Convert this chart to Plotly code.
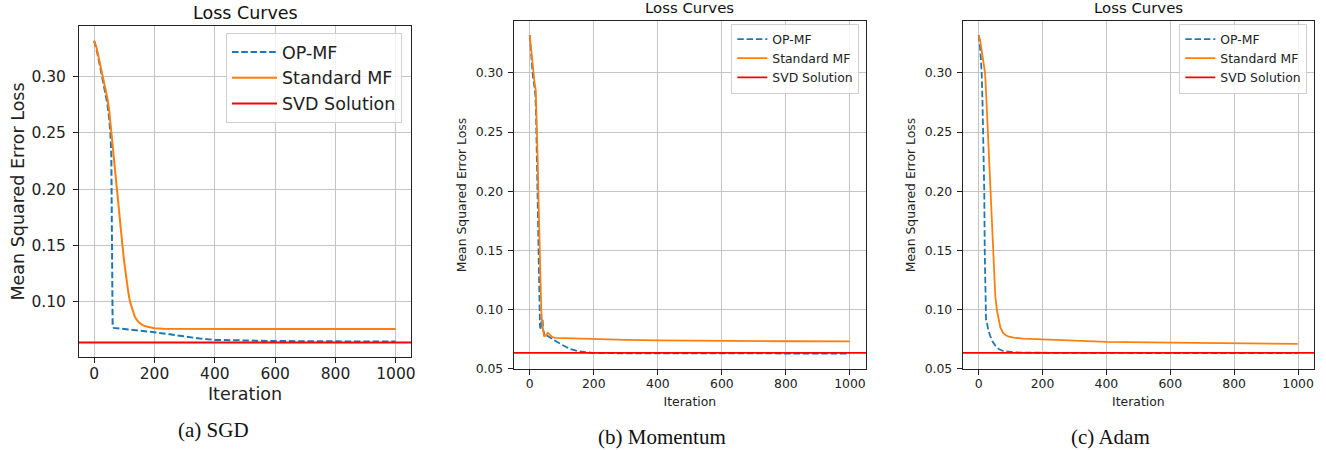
import plotly.graph_objects as go

W, H = 1326, 450


def px_x(v):
    return v / W


def px_y(v):
    return 1 - v / H


# ---------------- data ----------------
# (a) SGD
sgd_op_iter = [0, 10, 20, 27, 35, 44, 50, 54, 57, 58.5, 60, 61.5, 65, 100, 150, 200, 250, 300, 350, 400, 500, 600, 800, 999]
sgd_op_loss = [0.332, 0.322, 0.309, 0.300, 0.289, 0.276, 0.263, 0.250, 0.232, 0.180, 0.120, 0.078, 0.0767, 0.0758, 0.0744, 0.0728, 0.0710, 0.0690, 0.0672, 0.0660, 0.0653, 0.0650, 0.0647, 0.0645]
sgd_std_iter = [0, 8, 16, 25, 35, 44, 50, 57, 64, 70, 76, 82, 88, 94, 100, 107, 113, 119, 127, 135, 145, 157, 170, 185, 200, 230, 300, 500, 999]
sgd_std_loss = [0.332, 0.326, 0.316, 0.305, 0.293, 0.281, 0.270, 0.250, 0.232, 0.216, 0.200, 0.183, 0.166, 0.150, 0.135, 0.120, 0.109, 0.100, 0.092, 0.0865, 0.0825, 0.0797, 0.0781, 0.0770, 0.0764, 0.0760, 0.0758, 0.0757, 0.0757]

# (b) Momentum
mom_op_iter = [0, 5, 10, 15, 18, 20, 22, 24, 26, 28, 30, 32, 34, 36, 38, 40, 42, 44, 47, 50, 60, 75, 100, 125, 150, 175, 200, 300, 500, 999]
mom_op_loss = [0.332, 0.315, 0.297, 0.288, 0.280, 0.262, 0.235, 0.205, 0.170, 0.135, 0.100, 0.086, 0.084, 0.090, 0.085, 0.092, 0.083, 0.080, 0.078, 0.079, 0.077, 0.0745, 0.0705, 0.0670, 0.0650, 0.0640, 0.0634, 0.0632, 0.0631, 0.0630]
mom_std_iter = [0, 5, 10, 15, 19, 21, 23, 25, 27, 29, 31, 33, 36, 39, 42, 45, 50, 57, 63, 70, 80, 100, 150, 200, 300, 400, 600, 800, 999]
mom_std_loss = [0.332, 0.318, 0.301, 0.292, 0.285, 0.270, 0.249, 0.225, 0.200, 0.175, 0.150, 0.125, 0.100, 0.088, 0.081, 0.0778, 0.078, 0.0805, 0.079, 0.0768, 0.0762, 0.0760, 0.0756, 0.0752, 0.0746, 0.0741, 0.0736, 0.0734, 0.0733]

# (c) Adam
adam_op_iter = [0, 3, 6, 9.5, 12, 14, 16, 17.5, 19, 21, 23, 26, 30, 36, 44, 53, 63, 76, 90, 110, 150, 300, 600, 999]
adam_op_loss = [0.332, 0.326, 0.315, 0.300, 0.275, 0.250, 0.225, 0.200, 0.150, 0.100, 0.092, 0.089, 0.083, 0.0778, 0.073, 0.0694, 0.0668, 0.0652, 0.0645, 0.0640, 0.0637, 0.0635, 0.0634, 0.0634]
adam_std_iter = [0, 5, 10, 15, 20, 24, 28, 32, 36, 40, 44, 48, 52, 57, 62, 68, 76, 85, 95, 110, 140, 200, 300, 400, 600, 800, 999]
adam_std_loss = [0.332, 0.327, 0.318, 0.308, 0.300, 0.279, 0.255, 0.227, 0.200, 0.175, 0.150, 0.128, 0.112, 0.100, 0.092, 0.085, 0.0806, 0.0785, 0.0772, 0.0764, 0.0756, 0.0750, 0.0738, 0.0728, 0.0722, 0.0716, 0.0711]

SVD_LOSS = 0.0636

series_names = ["OP-MF", "Standard MF", "SVD Solution"]
captions = ["(a) SGD", "(b) Momentum", "(c) Adam"]
plot_title = "Loss Curves"
x_label = "Iteration"
y_label = "Mean Squared Error Loss"
x_ticks = [0, 200, 400, 600, 800, 1000]

# ---------------- layout / style (pixel boxes of each panel, page coords) ----------------
BLUE, ORANGE, RED = "#1f77b4", "#ff7f0e", "#ff0000"
FONT = "DejaVu Sans"

panels = [
    dict(op=(sgd_op_iter, sgd_op_loss), std=(sgd_std_iter, sgd_std_loss),
         box=(79, 411, 26, 357), yr=(0.0508, 0.3451), tick=15.5, lab=17.5, ttl=17.5, leg=17.5,
         lw=2.0, legpos=(402, 33), title_y=13, cap=(213, 430), xstand=6, ystand=2,
         xgap=-3, ygap=4, lgap=0, itemw=45),
    dict(op=(mom_op_iter, mom_op_loss), std=(mom_std_iter, mom_std_loss),
         box=(513.7, 866, 20.7, 369.3), yr=(0.0497, 0.3441), tick=12.4, lab=12.4, ttl=14.9, leg=12.4,
         lw=1.8, legpos=(859.3, 23.5), title_y=7.5, cap=(662, 437), xstand=7, ystand=6,
         xgap=-2, ygap=2, lgap=0, itemw=30),
    dict(op=(adam_op_iter, adam_op_loss), std=(adam_std_iter, adam_std_loss),
         box=(962.7, 1314, 20.7, 369.3), yr=(0.0497, 0.3441), tick=12.4, lab=12.4, ttl=14.9, leg=12.4,
         lw=1.8, legpos=(1307.3, 23.5), title_y=7.5, cap=(1110, 437), xstand=7, ystand=6,
         xgap=-2, ygap=2, lgap=0, itemw=30),
]

fig = go.Figure()
annotations = []
layout_axes = {}

for i, p in enumerate(panels):
    k = "" if i == 0 else str(i + 1)
    xa, ya = "x" + k, "y" + k
    lg = "legend" + k
    x0, x1, y0, y1 = p["box"]

    fig.add_trace(go.Scatter(x=p["op"][0], y=p["op"][1], mode="lines", name=series_names[0],
                             line=dict(color=BLUE, width=p["lw"], dash="6.5px,2.8px"),
                             xaxis=xa, yaxis=ya, legend=lg, legendgroup=f"g{i}0", legendrank=1))
    fig.add_trace(go.Scatter(x=p["std"][0], y=p["std"][1], mode="lines", name=series_names[1],
                             line=dict(color=ORANGE, width=p["lw"]),
                             xaxis=xa, yaxis=ya, legend=lg, legendgroup=f"g{i}1", legendrank=2))
    fig.add_shape(type="line", xref=f"{xa} domain", x0=0, x1=1, yref=ya, y0=SVD_LOSS, y1=SVD_LOSS,
                  line=dict(color=RED, width=p["lw"]), showlegend=True, name=series_names[2],
                  legend=lg, legendgroup=f"g{i}2", legendrank=3, layer="above")

    axis_common = dict(showgrid=True, gridcolor="#c4c4c4", gridwidth=1, zeroline=False,
                       showline=True, mirror=True, linecolor="#222222", linewidth=1,
                       ticks="outside", ticklen=5, tickcolor="#222222", automargin=False,
                       tickfont=dict(family=FONT, size=p["tick"], color="#222222"))
    layout_axes["xaxis" + k] = dict(axis_common, domain=[px_x(x0), px_x(x1)], anchor=ya,
                                    range=[-50, 1050], tickvals=x_ticks, ticklabelstandoff=p["xgap"],
                                    title=dict(text=x_label, standoff=p["xstand"],
                                               font=dict(family=FONT, size=p["lab"], color="#222222")))
    layout_axes["yaxis" + k] = dict(axis_common, domain=[px_y(y1), px_y(y0)], anchor=xa,
                                    range=list(p["yr"]), dtick=0.05, tick0=0, tickformat=".2f",
                                    ticklabelstandoff=p["ygap"],
                                    title=dict(text=y_label, standoff=p["ystand"],
                                               font=dict(family=FONT, size=p["lab"], color="#222222")))
    layout_axes[lg] = dict(x=px_x(p["legpos"][0]), y=px_y(p["legpos"][1]), xanchor="right", yanchor="top",
                           xref="paper", yref="paper", bgcolor="rgba(255,255,255,0.8)",
                           bordercolor="#d0d0d0", borderwidth=1, traceorder="grouped",
                           tracegroupgap=p["lgap"], itemwidth=p["itemw"],
                           font=dict(family=FONT, size=p["leg"], color="#222222"))

    annotations.append(dict(text=plot_title, xref="paper", yref="paper",
                            x=px_x((x0 + x1) / 2), y=px_y(p["title_y"]), xanchor="center", yanchor="middle",
                            showarrow=False, font=dict(family=FONT, size=p["ttl"], color="#111111")))
    annotations.append(dict(text=captions[i], xref="paper", yref="paper",
                            x=px_x(p["cap"][0]), y=px_y(p["cap"][1]), xanchor="center", yanchor="middle",
                            showarrow=False, font=dict(family="Liberation Serif", size=21, color="#111111")))

fig.update_layout(
    width=W, height=H, margin=dict(l=0, r=0, t=0, b=0),
    paper_bgcolor="white", plot_bgcolor="white",
    annotations=annotations, **layout_axes,
)

# remove the browser's default page margin so the figure fills the window exactly
fig.write_html("out.html", config={"displayModeBar": False},
               post_script="document.body.style.margin='0';document.body.style.overflow='hidden';")
